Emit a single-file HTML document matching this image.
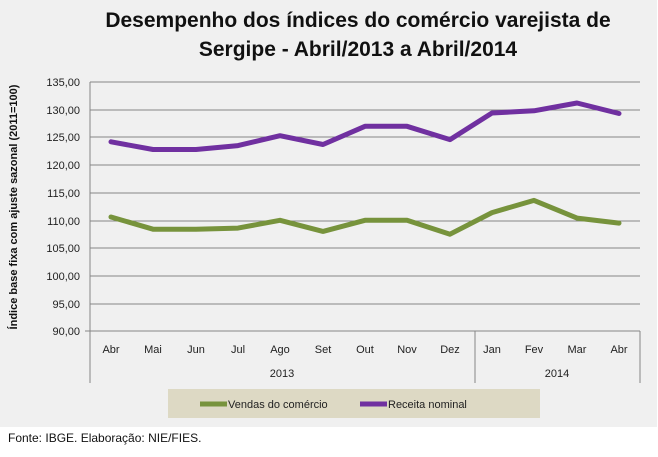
<!DOCTYPE html>
<html><head><meta charset="utf-8"><style>
html,body{margin:0;padding:0;background:#fff;}
svg{display:block;font-family:"Liberation Sans",sans-serif;}
</style></head><body>
<svg width="658" height="457" viewBox="0 0 658 457" xmlns="http://www.w3.org/2000/svg">
<rect x="0" y="0" width="657" height="427" fill="#f0f0f0"/>
<text x="358" y="27" text-anchor="middle" font-size="21" font-weight="bold" fill="#111">Desempenho dos índices do comércio varejista de</text>
<text x="358" y="56" text-anchor="middle" font-size="21" font-weight="bold" fill="#111">Sergipe - Abril/2013 a Abril/2014</text>
<g stroke="#868686" stroke-width="1">
<line x1="90" y1="82" x2="640" y2="82"/>
<line x1="90" y1="110" x2="640" y2="110"/>
<line x1="90" y1="137" x2="640" y2="137"/>
<line x1="90" y1="165" x2="640" y2="165"/>
<line x1="90" y1="193" x2="640" y2="193"/>
<line x1="90" y1="221" x2="640" y2="221"/>
<line x1="90" y1="248" x2="640" y2="248"/>
<line x1="90" y1="276" x2="640" y2="276"/>
<line x1="90" y1="304" x2="640" y2="304"/>
<line x1="85" y1="331" x2="640" y2="331"/>
<line x1="90" y1="82" x2="90" y2="383"/>
<line x1="475" y1="331" x2="475" y2="383"/>
<line x1="640" y1="331" x2="640" y2="383"/>
</g>
<g font-size="11" fill="#222" text-anchor="end">
<text x="80" y="86">135,00</text><text x="80" y="114">130,00</text><text x="80" y="141">125,00</text>
<text x="80" y="169">120,00</text><text x="80" y="197">115,00</text><text x="80" y="225">110,00</text>
<text x="80" y="252">105,00</text><text x="80" y="280">100,00</text><text x="80" y="308">95,00</text>
<text x="80" y="335">90,00</text>
</g>
<text transform="translate(17,207) rotate(-90)" text-anchor="middle" font-size="11" font-weight="bold" fill="#111">Índice base fixa com ajuste sazonal (2011=100)</text>
<g font-size="11" fill="#222" text-anchor="middle">
<text x="111" y="353">Abr</text><text x="153" y="353">Mai</text><text x="196" y="353">Jun</text>
<text x="238" y="353">Jul</text><text x="280" y="353">Ago</text><text x="323" y="353">Set</text>
<text x="365" y="353">Out</text><text x="407" y="353">Nov</text><text x="450" y="353">Dez</text>
<text x="492" y="353">Jan</text><text x="534" y="353">Fev</text><text x="577" y="353">Mar</text>
<text x="619" y="353">Abr</text>
<text x="282" y="377">2013</text><text x="557" y="377">2014</text>
</g>
<polyline fill="none" stroke="#7030a0" stroke-width="5" stroke-linejoin="round" stroke-linecap="round"
points="111,141.8 153,149.5 196,149.5 238,145.6 280,135.7 323,144.5 365,126.3 407,126.3 450,139.6 492,113 534,110.8 577,103 619,113.5"/>
<polyline fill="none" stroke="#77933c" stroke-width="5" stroke-linejoin="round" stroke-linecap="round"
points="111,217 153,229.2 196,229.2 238,228.1 280,220.3 323,231.4 365,220.3 407,220.3 450,234.2 492,212.6 534,200.4 577,218.1 619,223.1"/>
<rect x="168" y="389" width="372" height="29" fill="#ddd9c4"/>
<line x1="200" y1="404" x2="227" y2="404" stroke="#77933c" stroke-width="5"/>
<text x="228" y="408" font-size="11" fill="#222">Vendas do comércio</text>
<line x1="360" y1="404" x2="387" y2="404" stroke="#7030a0" stroke-width="5"/>
<text x="388" y="408" font-size="11" fill="#222">Receita nominal</text>
<text x="8" y="442" font-size="12" fill="#111">Fonte: IBGE. Elaboração: NIE/FIES.</text>
</svg>
</body></html>
